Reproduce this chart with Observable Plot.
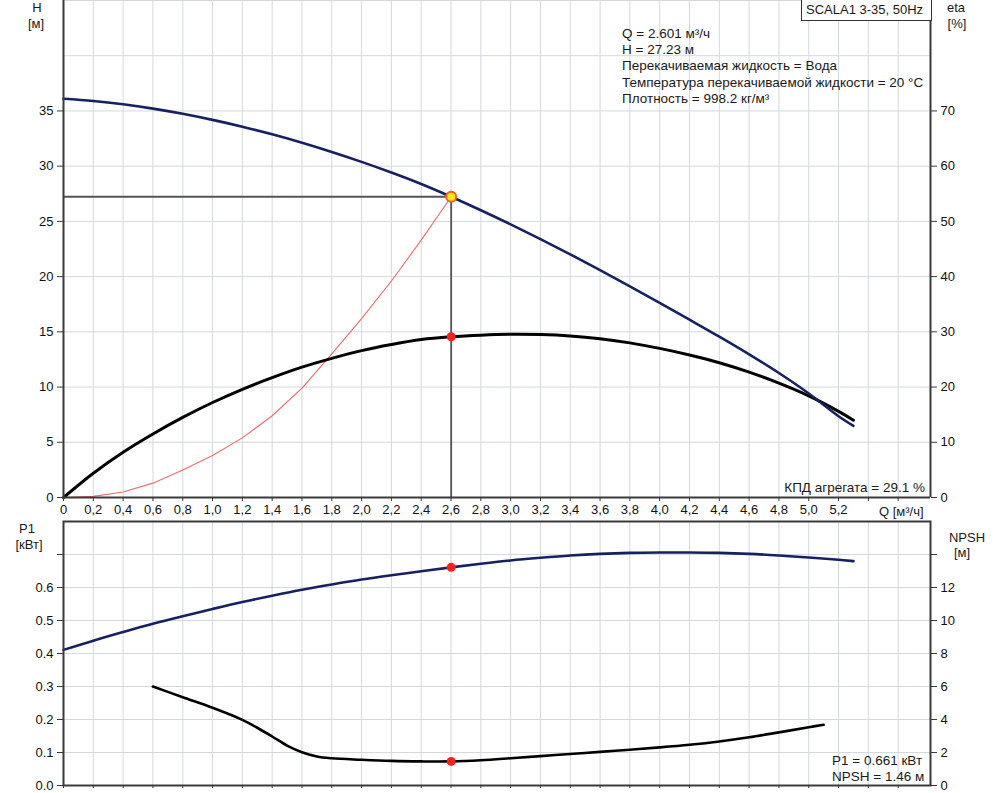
<!DOCTYPE html>
<html><head><meta charset="utf-8">
<script src="https://cdn.jsdelivr.net/npm/d3@7"></script>
<script src="https://cdn.jsdelivr.net/npm/@observablehq/plot@0.6"></script>
<style>
body{margin:0;background:#fff;font-family:"Liberation Sans",Arial,sans-serif;}
#wrap{position:relative;width:1000px;height:793px;overflow:hidden;background:#fff;}
#wrap svg{position:absolute;left:0;}
.t{position:absolute;font-size:13.5px;color:#1a1a1a;white-space:nowrap;line-height:15px;}
.c{text-align:center;font-size:13px;}
</style></head><body><div id="wrap"></div><script>
// ---- data ----
const hQ   = [0,0.2,0.4,0.6,0.8,1.0,1.2,1.4,1.6,1.8,2.0,2.2,2.4,2.6,2.8,3.0,3.2,3.4,3.6,3.8,4.0,4.2,4.4,4.6,4.8,5.0,5.2,5.3];
const hVal = [36.1,35.9,35.6,35.21,34.74,34.19,33.57,32.88,32.12,31.29,30.39,29.42,28.38,27.23,26.01,24.73,23.40,22.02,20.59,19.12,17.62,16.10,14.56,12.96,11.27,9.42,7.36,6.49];
const etaVal = [0,4.4,8.2,11.5,14.5,17.2,19.6,21.7,23.6,25.2,26.6,27.7,28.6,29.1,29.4,29.55,29.5,29.25,28.75,28.0,27.0,25.8,24.4,22.7,20.7,18.4,15.6,14.0];
const sysQ = [0,0.2,0.4,0.6,0.8,1.0,1.2,1.4,1.6,1.8,2.0,2.2,2.4,2.601];
const sysH = [0,0.1,0.5,1.3,2.5,3.8,5.4,7.4,9.9,13.0,16.2,19.6,23.3,27.23];
const p1Val = [0.411,0.439,0.465,0.490,0.513,0.535,0.556,0.575,0.593,0.609,0.624,0.637,0.649,0.661,0.672,0.682,0.690,0.697,0.702,0.705,0.706,0.706,0.705,0.702,0.697,0.691,0.684,0.680];
const npshQ = [0.6,0.8,1.0,1.2,1.3,1.4,1.5,1.6,1.7,1.8,2.0,2.2,2.4,2.6,2.8,3.0,3.2,3.4,3.6,3.8,4.0,4.2,4.4,4.6,4.8,5.0,5.1];
const npshVal = [6.0,5.35,4.71,3.98,3.5,2.97,2.42,2.02,1.76,1.65,1.56,1.49,1.46,1.46,1.53,1.65,1.78,1.91,2.04,2.17,2.31,2.47,2.67,2.92,3.22,3.53,3.68];
const duty = {q:2.601, h:27.23, eta:29.1, p1:0.661, npsh:1.46};

const xTicks = [0,0.2,0.4,0.6,0.8,1.0,1.2,1.4,1.6,1.8,2.0,2.2,2.4,2.6,2.8,3.0,3.2,3.4,3.6,3.8,4.0,4.2,4.4,4.6,4.8,5.0,5.2,5.4,5.6];
const hTicks = [0,5,10,15,20,25,30,35];
const hGrid = [5,10,15,20,25,30,35,40,45];
const etaTicks = [0,10,20,30,40,50,60,70];
const p1Ticks = [0,0.1,0.2,0.3,0.4,0.5,0.6,0.7];
const npshTicks = [0,2,4,6,8,10,12,14];
const X_MAX = 5.817;

const infoLines = ["Q = 2.601 м³/ч","H = 27.23 м","Перекачиваемая жидкость = Вода","Температура перекачиваемой жидкости = 20 °C","Плотность = 998.2 кг/м³"];

// ---- tables ----
const hData = hQ.map((q,i)=>({q, h:hVal[i], eta:etaVal[i], p1:p1Val[i]}));
const sysData = sysQ.map((q,i)=>({q, h:sysH[i]}));
const npshData = npshQ.map((q,i)=>({q, npsh:npshVal[i]}));

const GRID = "#d3d9de", AX = "#3a3a3a", NAVY = "#17215f";
const style = {fontFamily:'"Liberation Sans",Arial,sans-serif', fontSize:"13px", color:"#111", background:"transparent", overflow:"visible"};
const fmtQ = d => d === 0 ? "0" : (d > 5.3 ? "" : d.toFixed(1).replace(".", ","));

const topPlot = Plot.plot({
  width:1000, height:521, marginTop:0, marginBottom:24, marginLeft:63, marginRight:70,
  style,
  x:{domain:[0,X_MAX], axis:null}, y:{domain:[0,45], axis:null},
  marks:[
    Plot.gridX(xTicks.filter(d=>d>0), {stroke:GRID, strokeOpacity:1}),
    Plot.gridY(hGrid, {stroke:GRID, strokeOpacity:1}),
    Plot.ruleY([duty], {y:"h", x1:0, x2:"q", stroke:"#555", strokeWidth:1.8}),
    Plot.ruleX([duty], {x:"q", y1:0, y2:"h", stroke:"#555", strokeWidth:1.8}),
    Plot.line(sysData, {x:"q", y:"h", stroke:"#f26a6a", strokeWidth:1.1}),
    Plot.line(hData, {x:"q", y:d=>d.eta/2, stroke:"#000", strokeWidth:3, curve:"catmull-rom"}),
    Plot.line(hData, {x:"q", y:"h", stroke:NAVY, strokeWidth:2.6, curve:"catmull-rom"}),
    Plot.dot([duty], {x:"q", y:d=>d.eta/2, r:4.5, fill:"#ff1f1f", stroke:"none"}),
    Plot.dot([duty], {x:"q", y:"h", r:5, fill:"#ffe81a", stroke:"#ff5a1a", strokeWidth:2}),
    Plot.ruleX([0, X_MAX], {stroke:AX, strokeWidth:2}),
    Plot.ruleY([0], {stroke:AX, strokeWidth:2}),
    Plot.axisY({anchor:"left", ticks:hTicks, tickSize:6, tickPadding:4, label:null, stroke:AX}),
    Plot.axisY({anchor:"right", ticks:etaTicks.map(v=>v/2), tickFormat:d=>String(d*2), tickSize:6, tickPadding:4, label:null, stroke:AX}),
    Plot.axisX({anchor:"bottom", ticks:xTicks, tickFormat:fmtQ, tickSize:4, tickPadding:3, label:null, stroke:AX})
  ]
});
topPlot.style.top = "0px";

const botPlot = Plot.plot({
  width:1000, height:278, marginTop:6, marginBottom:8, marginLeft:63, marginRight:70,
  style,
  x:{domain:[0,X_MAX], axis:null}, y:{domain:[0,0.8], axis:null},
  marks:[
    Plot.gridX(xTicks.filter(d=>d>0), {stroke:GRID, strokeOpacity:1}),
    Plot.gridY(p1Ticks.filter(d=>d>0), {stroke:GRID, strokeOpacity:1}),
    Plot.line(npshData, {x:"q", y:d=>d.npsh/20, stroke:"#000", strokeWidth:2.6, curve:"catmull-rom"}),
    Plot.line(hData, {x:"q", y:"p1", stroke:NAVY, strokeWidth:2.6, curve:"catmull-rom"}),
    Plot.dot([duty], {x:"q", y:"p1", r:4.5, fill:"#ff1f1f", stroke:"none"}),
    Plot.dot([duty], {x:"q", y:d=>d.npsh/20, r:4.5, fill:"#ff1f1f", stroke:"none"}),
    Plot.frame({stroke:AX, strokeWidth:2}),
    Plot.axisY({anchor:"left", ticks:p1Ticks, tickFormat:d=>d>0.65?"":d.toFixed(1), tickSize:6, tickPadding:4, label:null, stroke:AX}),
    Plot.axisY({anchor:"right", ticks:npshTicks.map(v=>v/20), tickFormat:d=>{const v=Math.round(d*20); return v>12?"":String(v);}, tickSize:6, tickPadding:4, label:null, stroke:AX}),
    Plot.axisX({anchor:"bottom", ticks:xTicks, tickFormat:()=>"", tickSize:3, label:null, stroke:AX})
  ]
});
botPlot.style.top = "515px";

const wrap = document.getElementById("wrap");
wrap.appendChild(topPlot);
wrap.appendChild(botPlot);

function txt(s, left, top, cls, extra){
  const d = document.createElement("div");
  d.className = "t " + (cls||"");
  d.textContent = s;
  d.style.left = left + "px"; d.style.top = top + "px";
  if (extra) Object.assign(d.style, extra);
  wrap.appendChild(d);
  return d;
}
// axis titles (centered in a 40px box: center = left + 20)
txt("H", 17, 0, "c", {width:"40px"});
txt("[м]", 16, 16, "c", {width:"40px"});
txt("eta", 936, 0, "c", {width:"40px"});
txt("[%]", 937, 16, "c", {width:"40px"});
txt("P1", 7, 521, "c", {width:"40px"});
txt("[кВт]", 9, 537, "c", {width:"40px"});
txt("NPSH", 947, 530, "c", {width:"40px"});
txt("[м]", 942, 545, "c", {width:"40px"});
txt("Q [м³/ч]", 879, 504, "", {fontSize:"13px"});
// info box
txt("SCALA1 3-35, 50Hz", 801, -1, "", {width:"131px", height:"22px", lineHeight:"22px", border:"1.5px solid #333", borderTop:"none", background:"#fff", paddingLeft:"4px", boxSizing:"border-box", fontSize:"13px"});
infoLines.forEach((s,i)=>txt(s, 622, 26 + i*16.2, ""));
txt("КПД агрегата = 29.1 %", 0, 480, "", {right:"75px", left:"auto"});
txt("P1 = 0.661 кВт", 832, 753, "");
txt("NPSH = 1.46 м", 832, 769, "");
</script></body></html>
